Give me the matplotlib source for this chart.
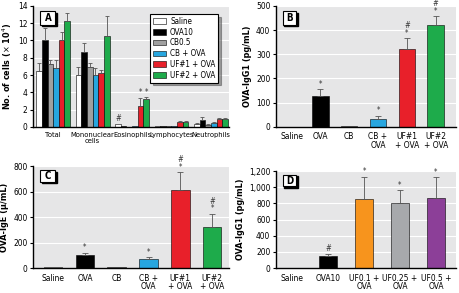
import numpy as np
import matplotlib.pyplot as plt
from matplotlib.patches import Rectangle

plt.rcParams['font.family'] = ['DejaVu Sans']
plt.rcParams['font.stretch'] = 'condensed'
plt.rcParams['mathtext.fontset'] = 'dejavusans'

# panel A: cell counts
a_groups = ["Total", "Mononuclear\ncells", "Eosinophils", "Lymphocytes", "Neutrophils"]
a_series = ["Saline", "OVA10", "CB0.5", "CB + OVA", "UF#1 + OVA", "UF#2 + OVA"]
a_values = [
    [6.5, 6.0, 0.3, 0.15, 0.3],
    [10.1, 8.7, 0.05, 0.1, 0.8],
    [7.3, 6.9, 0.02, 0.05, 0.25],
    [6.8, 6.0, 0.15, 0.1, 0.45],
    [10.0, 6.2, 2.4, 0.6, 0.9],
    [12.3, 10.5, 3.2, 0.6, 0.9],
]
a_errors = [
    [0.9, 0.9, 0.0, 0.0, 0.1],
    [1.3, 1.0, 0.0, 0.0, 0.3],
    [0.4, 0.5, 0.0, 0.0, 0.05],
    [0.9, 0.8, 0.0, 0.0, 0.15],
    [1.0, 0.4, 0.9, 0.1, 0.1],
    [0.9, 2.3, 0.2, 0.1, 0.1],
]
a_marks = {(0, 2): "#", (4, 2): "*", (5, 2): "*"}

# panel B: OVA-IgG1
b_labels = ["Saline", "OVA", "CB", "CB +\nOVA", "UF#1\n+ OVA", "UF#2\n+ OVA"]
b_values = [0, 126, 3, 32, 321, 419]
b_errors = [0, 30, 0, 13, 45, 38]
b_marks = ["", "*", "", "*", "#\n*", "#\n*"]

# panel C: OVA-IgE
c_labels = ["Saline", "OVA", "CB", "CB +\nOVA", "UF#1\n+ OVA", "UF#2\n+ OVA"]
c_values = [5, 105, 8, 73, 609, 322]
c_errors = [0, 15, 0, 13, 144, 104]
c_marks = ["", "*", "", "*", "#\n*", "#\n*"]

# panel D: OVA-IgG1 dose
d_labels = ["Saline", "OVA10", "UF0.1 +\nOVA", "UF0.25 +\nOVA", "UF0.5 +\nOVA"]
d_values = [0, 145, 852, 811, 869]
d_errors = [0, 33, 278, 153, 253]
d_marks = ["", "#", "*", "*", "*"]

a_colors = ["white", "black", "#a0a0a0", "#27a6df", "#e8202a", "#1eab4b"]
b_colors = ["white", "black", "#a0a0a0", "#27a6df", "#e8202a", "#1eab4b"]
d_colors = ["white", "black", "#f7941d", "#a7a9ac", "#8c3f98"]

BG = "#e6e6e7"
FS = 6


def style_axes(ax, ymax, step, letter, fmt="{:g}"):
    ax.set_facecolor(BG)
    ax.set_ylim(0, ymax)
    ticks = np.arange(0, ymax + step / 2, step)
    ax.set_yticks(ticks)
    ax.set_yticklabels([fmt.format(t) for t in ticks], fontsize=FS)
    ax.yaxis.grid(True, color="white", linewidth=0.8)
    ax.set_axisbelow(True)
    for s in ["top", "right"]:
        ax.spines[s].set_visible(False)
    ax.spines["left"].set_linewidth(1.0)
    ax.spines["bottom"].set_linewidth(1.0)
    ax.tick_params(axis="x", length=0, labelsize=FS, pad=4)
    ax.tick_params(axis="y", length=2, pad=2)
    # panel letter in a shadowed box
    ax.add_patch(Rectangle((0.048, 0.83), 0.075, 0.115, transform=ax.transAxes,
                           facecolor="black", edgecolor="black", zorder=5))
    ax.add_patch(Rectangle((0.038, 0.845), 0.075, 0.115, transform=ax.transAxes,
                           facecolor="white", edgecolor="black", linewidth=0.8, zorder=6))
    ax.text(0.0755, 0.9, letter, transform=ax.transAxes, ha="center", va="center",
            fontsize=7, fontweight="bold", zorder=7)


def simple_bars(ax, labels, values, errors, colors, marks, width, ymax):
    x = np.arange(len(values))
    ax.bar(x, values, width, color=colors, edgecolor="black", linewidth=0.4, zorder=2)
    for xi, v, e in zip(x, values, errors):
        if e > 0:
            ax.errorbar(xi, v, yerr=[[0], [e]], fmt="none", ecolor="#555555",
                        elinewidth=0.6, capsize=2, capthick=0.6, zorder=3)
    for xi, v, e, m in zip(x, values, errors, marks):
        if m:
            ax.text(xi, v + e + ymax * 0.005, m, ha="center", va="bottom",
                    fontsize=5.5, linespacing=0.8, color="#333333", clip_on=False)
    ax.set_xticks(x)
    ax.set_xticklabels(labels, linespacing=0.95)


fig = plt.figure(figsize=(4.59, 2.93), dpi=100)

# panel A
axA = fig.add_axes([0.072, 0.567, 0.427, 0.413])
style_axes(axA, 14, 2, "A")
n = len(a_series)
bw = 0.143
gx = np.arange(len(a_groups))
for i in range(n):
    xs = gx + (i - (n - 1) / 2) * bw
    axA.bar(xs, a_values[i], bw, color=a_colors[i], edgecolor="black",
            linewidth=0.4, label=a_series[i], zorder=2)
    for j, (xv, v, e) in enumerate(zip(xs, a_values[i], a_errors[i])):
        if e > 0:
            axA.errorbar(xv, v, yerr=[[0], [e]], fmt="none", ecolor="#555555",
                         elinewidth=0.6, capsize=1.5, capthick=0.6, zorder=3)
        if (i, j) in a_marks:
            axA.text(xv, v + e + 0.1, a_marks[(i, j)], ha="center", va="bottom",
                     fontsize=5.5, color="#333333")
axA.set_xlim(-0.51, 4.46)
axA.set_xticks(gx)
axA.set_xticklabels(a_groups, linespacing=0.95, fontsize=5.4)
axA.set_ylabel("No. of cells ($\\times$ 10$^4$)", fontsize=6.5, fontweight="bold", labelpad=3)
leg = axA.legend(loc="upper right", bbox_to_anchor=(0.965, 0.965), fontsize=5.8,
                 frameon=True, fancybox=False, shadow=True, edgecolor="black",
                 handlelength=1.6, handleheight=0.7, labelspacing=0.22,
                 borderpad=0.35, handletextpad=0.5, framealpha=1)
leg.get_frame().set_linewidth(0.8)

# panel B
axB = fig.add_axes([0.601, 0.567, 0.392, 0.413])
style_axes(axB, 500, 100, "B")
simple_bars(axB, b_labels, b_values, b_errors, b_colors, b_marks, 0.57, 500)
axB.set_xlim(-0.55, 5.7)
axB.set_ylabel("OVA-IgG1 (pg/mL)", fontsize=6.5, fontweight="bold", labelpad=3)

# panel C
axC = fig.add_axes([0.072, 0.085, 0.427, 0.348])
style_axes(axC, 800, 200, "C")
simple_bars(axC, c_labels, c_values, c_errors, b_colors, c_marks, 0.58, 800)
axC.set_xlim(-0.63, 5.53)
axC.set_ylabel("OVA-IgE (\u03bc/mL)", fontsize=6.5, fontweight="bold", labelpad=3)

# panel D
axD = fig.add_axes([0.601, 0.085, 0.392, 0.331])
style_axes(axD, 1200, 200, "D", fmt="{:,.0f}")
simple_bars(axD, d_labels, d_values, d_errors, d_colors, d_marks, 0.52, 1200)
axD.set_xlim(-0.45, 4.55)
axD.set_ylabel("OVA-IgG1 (pg/mL)", fontsize=6.5, fontweight="bold", labelpad=3)

fig.savefig("out.png", dpi=100)
